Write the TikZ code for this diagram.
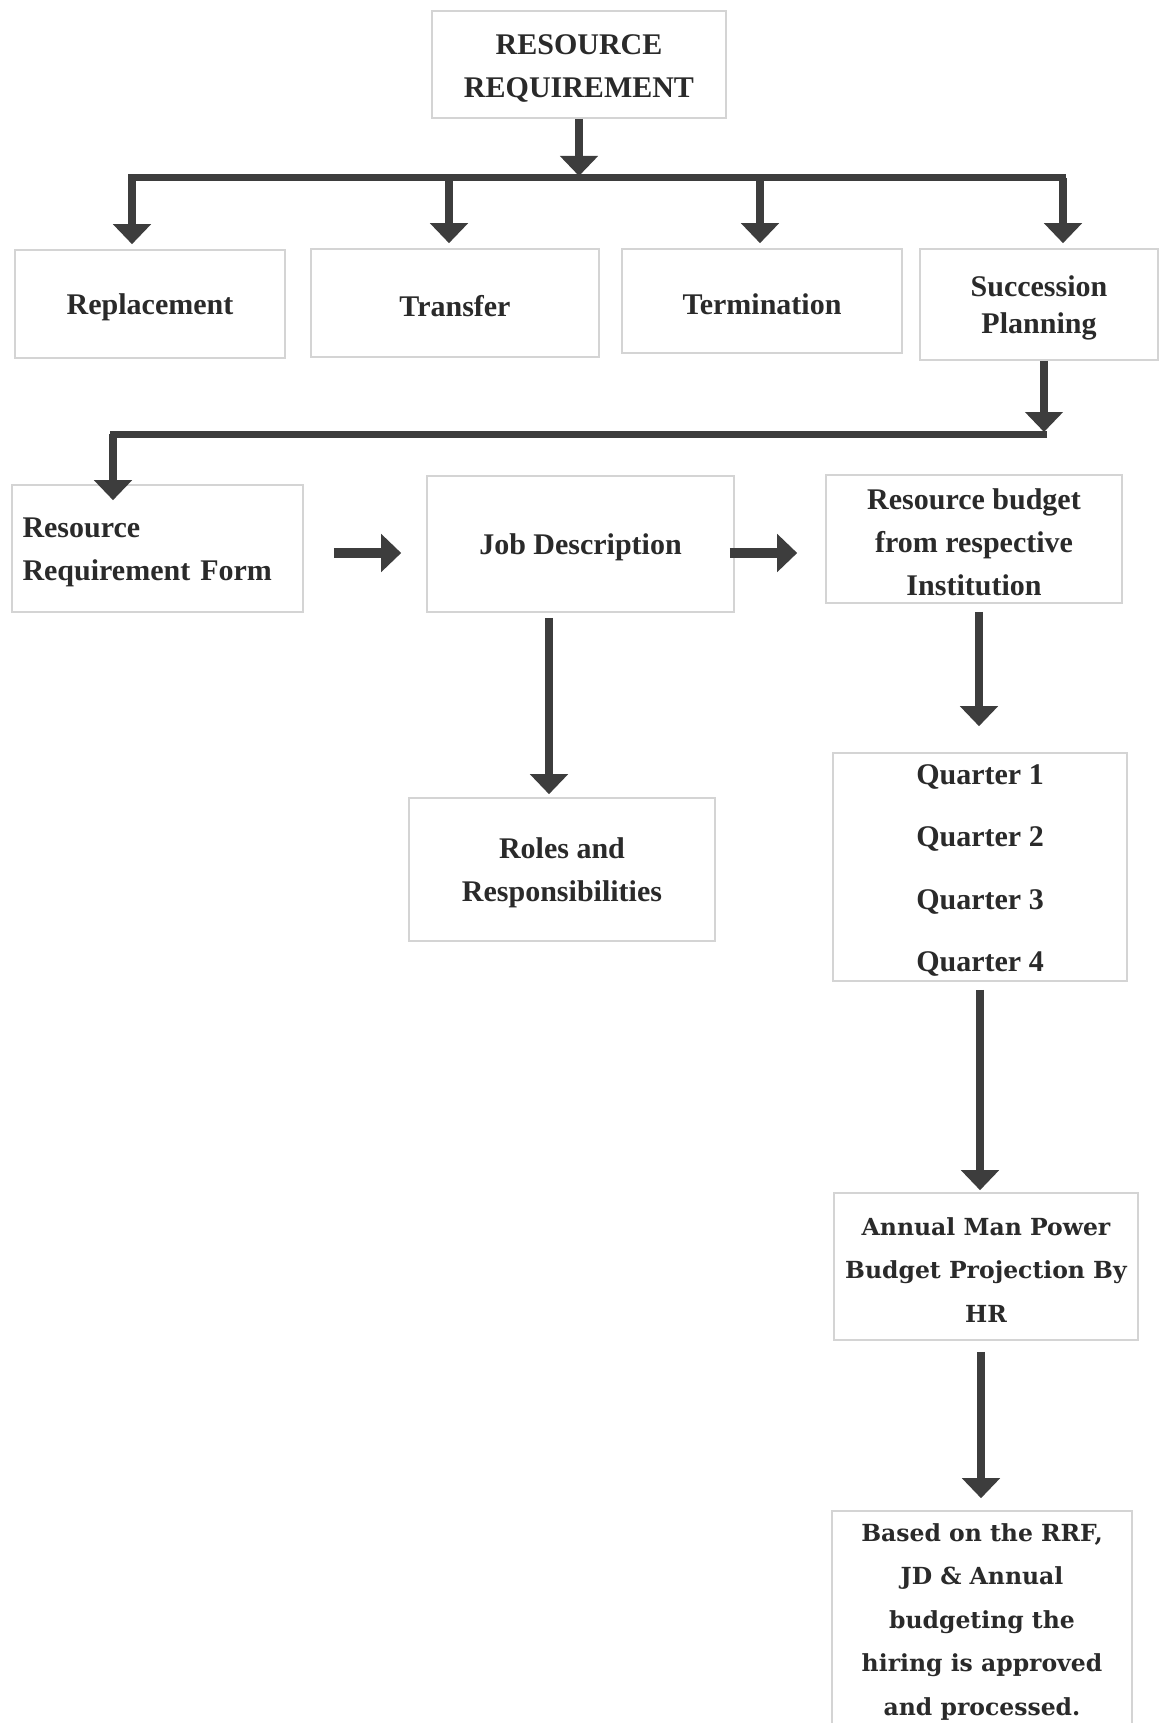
\documentclass[tikz,border=0pt]{standalone}
\usepackage{fontspec}
\setmainfont{Liberation Serif}
\newfontfamily\widefont{DejaVu Serif}
\usetikzlibrary{arrows.meta}
\definecolor{inkgray}{HTML}{2A2A2A}
\definecolor{arrowgray}{HTML}{3D3D3D}
\definecolor{edgegray}{HTML}{D4D4D4}
\newcommand{\lift}{\rule{0pt}{27pt}}
\newcommand{\liftw}{\rule{0pt}{24.5pt}}
\tikzset{
  box/.style={draw=edgegray, line width=1.6pt, fill=white, text=inkgray, align=center,
    inner sep=0pt, font=\fontsize{30}{43}\selectfont\bfseries},
  widebox/.style={box, font=\fontsize{23.5}{43.6}\selectfont\widefont\bfseries},
  link/.style={draw=arrowgray, line width=7.5pt, -{Triangle[width=37pt,length=20pt]}},
  sidelink/.style={link, line width=10.5pt},
  busline/.style={draw=arrowgray, line width=7pt},
}
\begin{document}
\begin{tikzpicture}[x=1pt, y=-1pt]
    \useasboundingbox (0,0) rectangle (1159,1723);
    \node[box, minimum width=294pt, minimum height=107pt] (rr) at (579,64.5) {\lift RESOURCE\\REQUIREMENT};
    \node[box, minimum width=270pt, minimum height=108pt] (rep) at (150,304) {\lift Replacement};
    \node[box, minimum width=288pt, minimum height=108pt] (tra) at (455,303) {\lift Transfer};
    \node[box, minimum width=280pt, minimum height=104pt] (ter) at (762,301) {\lift Termination};
    \node[box, minimum width=238pt, minimum height=111pt, font=\fontsize{30}{37}\selectfont\bfseries] (sp) at (1039,304.5) {\lift Succession\\Planning};
    \node[box, minimum width=291pt, minimum height=127pt, text width=270pt, align=left] (rrf) at (157.5,548.5) {\lift Resource\\Requirement Form};
    \node[box, minimum width=307pt, minimum height=136pt] (jd) at (580.5,544) {\lift Job Description};
    \node[box, minimum width=296pt, minimum height=128pt] (rb) at (974,539) {\lift Resource budget\\from respective\\Institution};
    \node[box, minimum width=306pt, minimum height=143pt] (roles) at (562,869.5) {\lift Roles and\\Responsibilities};
    \node[box, minimum width=294pt, minimum height=228pt, font=\fontsize{30}{62.6}\selectfont\bfseries] (qtr) at (980,867) {\lift Quarter 1\\Quarter 2\\Quarter 3\\Quarter 4};
    \node[widebox, minimum width=304pt, minimum height=147pt] (amp) at (986,1266.5) {\liftw Annual Man Power\\Budget Projection By\\HR};
    \node[widebox, minimum width=300pt, minimum height=215pt] (hire) at (982,1618.5) {\liftw Based on the RRF,\\JD \& Annual\\budgeting the\\hiring is approved\\and processed.};
    \coordinate (b0) at (579,176);
    \coordinate (b1) at (132,178);
    \coordinate (b2) at (449,178);
    \coordinate (b3) at (760,178);
    \coordinate (b4) at (1063,178);
    \coordinate (c1) at (1044,432);
    \coordinate (c2) at (113,434);
    \draw[link] (rr.south) -- (b0);
    \draw[busline] (128,178) -- (1066,178);
    \draw[link, shorten >=5pt] (b1) -- (b1 |- rep.north);
    \draw[link, shorten >=5pt] (b2) -- (b2 |- tra.north);
    \draw[link, shorten >=5pt] (b3) -- (b3 |- ter.north);
    \draw[link, shorten >=5pt] (b4) -- (b4 |- sp.north);
    \draw[link] (sp.south -| c1) -- (c1);
    \draw[busline] (1047,434) -- (110,434);
    \draw[link, shorten >=-16pt] (c2) -- (c2 |- rrf.north);
    \draw[sidelink, shorten <=30pt, shorten >=25pt] (rrf.east |- 0,553) -- (jd.west |- 0,553);
    \draw[sidelink, shorten <=-5pt, shorten >=28pt] (jd.east |- 0,553) -- (rb.west |- 0,553);
    \draw[link, shorten <=5pt, shorten >=3pt] (jd.south -| 549,0) -- (roles.north -| 549,0);
    \draw[link, shorten <=8pt, shorten >=26pt] (rb.south -| 979,0) -- (qtr.north -| 979,0);
    \draw[link, shorten <=8pt, shorten >=2pt] (qtr.south) -- (amp.north -| qtr.south);
    \draw[link, shorten <=11pt, shorten >=12pt] (amp.south -| 981,0) -- (hire.north -| 981,0);
\end{tikzpicture}
\end{document}
